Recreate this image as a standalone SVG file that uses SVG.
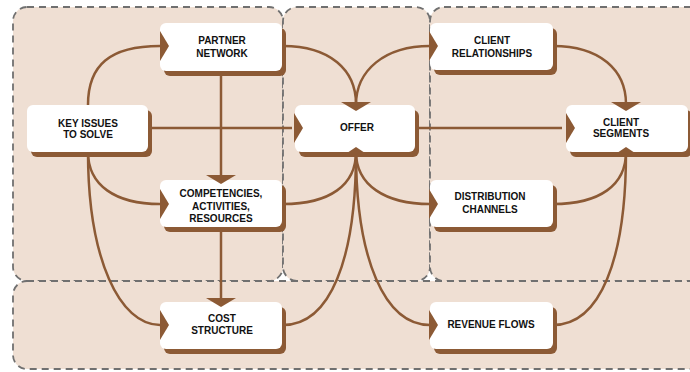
<svg xmlns="http://www.w3.org/2000/svg" width="690" height="372" viewBox="0 0 690 372">
  <style>
    .zone { fill: #efdfd3; stroke: #707070; stroke-width: 1.8; stroke-dasharray: 7 5; }
    .shadow { fill: #8c5a35; }
    .card { fill: #ffffff; }
    .wire { fill: none; stroke: #8c5a35; stroke-width: 2.5; }
    .head { fill: #8c5a35; }
    .label { font-family: "Liberation Sans", Arial, sans-serif; font-weight: bold; font-size: 10px; fill: #111111; text-anchor: middle; }
  </style>
  <defs>
    <!-- arrowheads: tip at the origin -->
    <polygon id="head-right" class="head" points="0,0 -9,-15 -9,15"/>
    <polygon id="head-down" class="head" points="0,0 -15,-9 15,-9"/>
    <polygon id="head-up" class="head" points="0,0 -15,10 15,10"/>
  </defs>

  <rect width="690" height="372" fill="#ffffff"/>

  <!-- zones -->
  <g id="zones">
    <rect class="zone" x="13" y="7" width="270" height="274" rx="14"/>
    <rect class="zone" x="283" y="7" width="147" height="274" rx="14"/>
    <rect class="zone" x="430" y="7" width="290" height="274" rx="14"/>
    <rect class="zone" x="13" y="281" width="707" height="88" rx="14"/>
  </g>

  <!-- connectors -->
  <g id="connectors">
    <path class="wire" d="M88,105 C88,65 110,46 160,46"/>
    <path class="wire" d="M88,152 C88,185 115,204 160,204"/>
    <path class="wire" d="M88,152 C88,260 120,325 160,325"/>
    <path class="wire" d="M221,71 V176"/>
    <path class="wire" d="M221,227 V298"/>
    <path class="wire" d="M148,128 H292"/>
    <path class="wire" d="M283,46 C330,46 356,70 356,104"/>
    <path class="wire" d="M356,105 C356,70 385,46 430,46"/>
    <path class="wire" d="M283,204 C330,204 356,185 356,152"/>
    <path class="wire" d="M283,325 C330,325 356,260 356,152"/>
    <path class="wire" d="M356,152 C356,185 385,204 430,204"/>
    <path class="wire" d="M356,152 C356,260 385,325 430,325"/>
    <path class="wire" d="M414,128 H562"/>
    <path class="wire" d="M553,46 C600,46 626,70 626,104"/>
    <path class="wire" d="M553,204 C600,204 626,185 626,152"/>
    <path class="wire" d="M553,325 C600,325 626,260 626,152"/>
  </g>

  <!-- nodes -->
  <g id="key-issues">
    <rect class="shadow" x="31" y="110" width="121" height="47" rx="6"/>
    <rect class="card" x="27" y="105" width="121" height="47" rx="6"/>
    <text class="label" x="88" y="127">KEY ISSUES</text>
    <text class="label" x="88" y="138">TO SOLVE</text>
  </g>

  <g id="partner-network">
    <rect class="shadow" x="164" y="28" width="122" height="48" rx="6"/>
    <rect class="card" x="160" y="23" width="122" height="48" rx="6"/>
    <text class="label" x="222" y="44">PARTNER</text>
    <text class="label" x="222" y="57">NETWORK</text>
    <use href="#head-right" x="169" y="46"/>
  </g>

  <g id="competencies">
    <rect class="shadow" x="164" y="185" width="122" height="47" rx="6"/>
    <rect class="card" x="160" y="180" width="122" height="47" rx="6"/>
    <text class="label" x="221" y="197">COMPETENCIES,</text>
    <text class="label" x="221" y="210">ACTIVITIES,</text>
    <text class="label" x="221" y="222">RESOURCES</text>
    <use href="#head-right" x="169" y="204"/>
    <use href="#head-down" x="221" y="184"/>
  </g>

  <g id="cost-structure">
    <rect class="shadow" x="164" y="307" width="122" height="47" rx="6"/>
    <rect class="card" x="160" y="302" width="122" height="47" rx="6"/>
    <text class="label" x="222" y="322">COST</text>
    <text class="label" x="222" y="334">STRUCTURE</text>
    <use href="#head-right" x="169" y="325"/>
    <use href="#head-down" x="221" y="307"/>
  </g>

  <g id="offer">
    <rect class="shadow" x="299" y="110" width="120" height="47" rx="6"/>
    <rect class="card" x="295" y="105" width="120" height="47" rx="6"/>
    <text class="label" x="357" y="131">OFFER</text>
    <use href="#head-right" x="303" y="128"/>
    <use href="#head-down" x="356" y="111"/>
    <use href="#head-up" x="356" y="147"/>
  </g>

  <g id="client-relationships">
    <rect class="shadow" x="434" y="28" width="123" height="47" rx="6"/>
    <rect class="card" x="430" y="23" width="123" height="47" rx="6"/>
    <text class="label" x="492" y="44">CLIENT</text>
    <text class="label" x="492" y="57">RELATIONSHIPS</text>
    <use href="#head-right" x="438" y="46"/>
  </g>

  <g id="client-segments">
    <rect class="shadow" x="570" y="110" width="122" height="47" rx="6"/>
    <rect class="card" x="566" y="105" width="122" height="47" rx="6"/>
    <text class="label" x="621" y="126">CLIENT</text>
    <text class="label" x="621" y="137">SEGMENTS</text>
    <use href="#head-right" x="575" y="128"/>
    <use href="#head-down" x="626" y="111"/>
    <use href="#head-up" x="626" y="147"/>
  </g>

  <g id="distribution-channels">
    <rect class="shadow" x="434" y="185" width="123" height="47" rx="6"/>
    <rect class="card" x="430" y="180" width="123" height="47" rx="6"/>
    <text class="label" x="490" y="200">DISTRIBUTION</text>
    <text class="label" x="490" y="213">CHANNELS</text>
    <use href="#head-right" x="438" y="204"/>
  </g>

  <g id="revenue-flows">
    <rect class="shadow" x="434" y="307" width="123" height="47" rx="6"/>
    <rect class="card" x="430" y="302" width="123" height="47" rx="6"/>
    <text class="label" x="491" y="328">REVENUE FLOWS</text>
    <use href="#head-right" x="438" y="325"/>
  </g>
</svg>
